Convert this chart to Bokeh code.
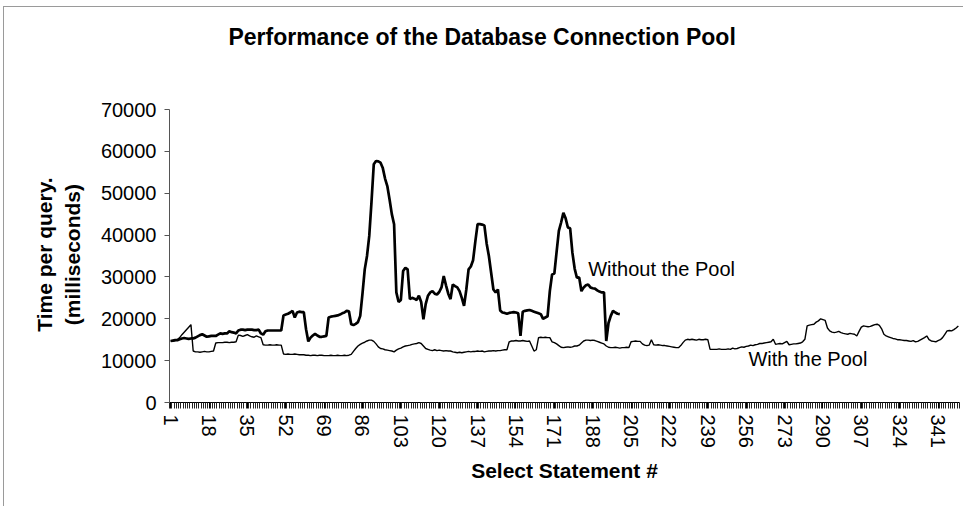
from bokeh.plotting import figure
from bokeh.models import Range1d, FixedTicker, Label
from bokeh.embed import file_html
from bokeh.resources import INLINE

# ---------------- data ----------------
without_pool = [
    14700, 14800, 14900, 14900, 15100, 15300, 15400, 15300, 15200, 15300,
    15300, 15500, 15800, 16100, 16300, 16000, 15700, 15800, 15900, 15900,
    15900, 16200, 16500, 16400, 16500, 16500, 17000, 16800, 16700, 16500,
    17200, 17400, 17400, 17300, 17400, 17400, 17400, 17300, 17300, 17400,
    16500, 16200, 17000, 17200, 17200, 17200, 17200, 17200, 17200, 17200,
    20800, 21000, 21200, 21500, 21900, 20300, 21500, 21700, 21600, 21600,
    17500, 14600, 15500, 16000, 16400, 16000, 15700, 15700, 15800, 15900,
    20300, 20500, 20600, 20700, 20800, 21000, 21300, 21500, 21900, 21800,
    18700, 18500, 18800, 19200, 20700, 26000, 31800, 35000, 39800, 48000,
    56900, 57700, 57600, 57300, 56000, 53500, 51700, 48500, 45000, 42600,
    26300, 24000, 24500, 31400, 32200, 31800, 24700, 25000, 24800, 24500,
    25500, 24000, 19900, 23500, 25500, 26300, 26600, 26000, 25800, 26400,
    27500, 30200, 28000, 26000, 24700, 28200, 27800, 27500, 26600, 25000,
    23100, 27000, 31800, 32500, 34000, 38500, 42600, 42600, 42500, 42300,
    38000, 35000, 31000, 27000, 26300, 27000, 22000, 21500, 21400, 21200,
    21400, 21500, 21600, 21500, 21300, 15900, 21700, 21900, 22000, 22100,
    21900, 21700, 21500, 21300, 21100, 20000, 20300, 20600, 26600, 30600,
    30800, 36000, 41000, 43000, 45300, 44000, 41800, 41600, 35800, 32000,
    29800, 29900, 26600, 27500, 28000, 28200, 27500, 27300, 27200, 26800,
    26500, 26300, 26300, 14700, 19000, 20700, 21900, 21500, 21200, 21100,
]

with_pool = [
    14700, 14700, 14800, 15000, 15500, 16200, 16800, 17400, 18000, 18600,
    12300, 12100, 12100, 12000, 12100, 12200, 12100, 12100, 12200, 12300,
    14200, 14300, 14300, 14300, 14400, 14400, 14300, 14400, 14400, 14500,
    16100, 16000, 15800, 16000, 16200, 15900, 15700, 15600, 15900, 15700,
    15500, 13800, 13700, 13700, 13800, 13700, 13700, 13800, 13700, 13700,
    11600, 11500, 11600, 11500, 11500, 11600, 11500, 11400, 11400, 11400,
    11300, 11300, 11200, 11300, 11300, 11200, 11300, 11300, 11200, 11200,
    11200, 11300, 11200, 11200, 11300, 11200, 11200, 11300, 11200, 11300,
    11500, 12200, 12900, 13500, 13900, 14200, 14400, 14700, 14900, 14900,
    14600, 14000, 13300, 12900, 12800, 12600, 12500, 12400, 12300, 12100,
    12500, 12800, 13000, 13300, 13500, 13600, 13700, 13900, 14000, 14100,
    14300, 14100, 13500, 12900, 12700, 12500, 12400, 12600, 12400, 12500,
    12400, 12300, 12400, 12300, 12300, 12100, 12000, 11900, 12000, 11900,
    12000, 12100, 12200, 12100, 12200, 12200, 12300, 12200, 12300, 12100,
    12200, 12300, 12300, 12400, 12300, 12400, 12400, 12500, 12600, 12600,
    14500, 14700, 14700, 14800, 14700, 14700, 14800, 14700, 14600, 14700,
    13500, 12300, 12600, 15500, 15600, 15500, 15600, 15500, 15500, 14500,
    14300, 14000, 13600, 13200, 13100, 13200, 13300, 13200, 13300, 13500,
    13500, 13700, 14200, 14700, 14900, 14900, 14800, 14900, 14800, 14600,
    14400, 14200, 14000, 13500, 13200, 13100, 13100, 13200, 13100, 13000,
    13100, 13100, 13200, 13100, 14500, 14600, 14700, 14600, 14600, 14000,
    13700, 13600, 13700, 15000, 13800, 13700, 13800, 13700, 13600, 13600,
    13500, 13400, 13300, 13200, 13100, 13100, 13600, 14300, 14900, 15100,
    15000, 15100, 15000, 14900, 15100, 15000, 15000, 15100, 15000, 12700,
    12700, 12700, 12700, 12800, 12700, 12700, 12700, 12800, 12700, 13000,
    12800, 12900, 13100, 13300, 13200, 13400, 13500, 13700, 13600, 13800,
    13900, 14100, 14100, 14200, 14300, 14400, 14500, 15100, 13900, 14000,
    14100, 14000, 14300, 14600, 13800, 13900, 14000, 14000, 14100, 14200,
    14500, 15100, 18300, 18500, 18600, 18700, 19200, 19500, 20000, 19800,
    19600, 17800, 17100, 16800, 16700, 16800, 17000, 16700, 16500, 16400,
    16300, 16500, 16400, 16300, 15900, 17000, 18000, 18300, 18200, 18100,
    18200, 18400, 18600, 18700, 18400, 17600, 16300, 15900, 15700, 15500,
    15300, 15200, 15000, 15000, 14900, 14800, 14800, 14700, 14600, 14800,
    14500, 14600, 14900, 15200, 15500, 15900, 15000, 14700, 14600, 14500,
    14800, 15000, 15500, 16300, 17100, 17200, 17100, 17400, 17800, 18300,
]

x_tick_values = [1, 18, 35, 52, 69, 86, 103, 120, 137, 154, 171, 188, 205,
                 222, 239, 256, 273, 290, 307, 324, 341]
y_tick_values = [0, 10000, 20000, 30000, 40000, 50000, 60000, 70000]
y_axis_max = 70000

title_text = "Performance of the Database Connection Pool"
title_pos = (139, 87440)
x_title = "Select Statement #"
y_title_lines = ["Time per query.", "(milliseconds)"]
label_without = "Without the Pool"
label_with = "With the Pool"
label_without_pos = (186, 31800)
label_with_pos = (257, 10500)

# ---------------- figure ----------------
FONT = "Liberation Sans"
N = len(with_pool)
x_with = list(range(1, N + 1))
x_without = list(range(1, len(without_pool) + 1))

# frame reaches the top of the canvas so the title can live inside it;
# the value axis itself is bounded to 0..70000
H, MB_BOTTOM = 500, 105
frame_h = H - MB_BOTTOM
axis_px = 293  # pixel height of 0..70000 in the reference
y_top = y_axis_max * frame_h / axis_px

p = figure(width=960, height=H, output_backend="svg", toolbar_location=None,
           title=None,
           x_range=Range1d(0.5, N + 0.5), y_range=Range1d(0, y_top),
           min_border_left=165, min_border_right=5,
           min_border_top=0, min_border_bottom=MB_BOTTOM)
p.styles = {"border-left": "1px solid #9a9a9a", "border-top": "1px solid #9a9a9a",
            "margin-left": "3px", "margin-top": "6px"}

p.xgrid.visible = False
p.ygrid.visible = False
p.outline_line_color = None
p.background_fill_color = "white"
p.border_fill_color = "white"

p.line(x_without, without_pool, line_color="black", line_width=2.7)
p.line(x_with, with_pool, line_color="black", line_width=1.4)

# y axis (label centred on the 0..70000 span: pad the top end of the rotated text)
PAD = "\u00a0" * 17
ya = p.yaxis[0]
ya.bounds = (0, y_axis_max)
ya.ticker = FixedTicker(ticks=y_tick_values)
ya.axis_label = "\n".join(line + PAD for line in y_title_lines)
ya.axis_label_text_font = FONT
ya.axis_label_text_font_size = "21px"
ya.axis_label_text_font_style = "bold"
ya.axis_label_text_color = "black"
ya.axis_label_standoff = 14
ya.major_label_text_font = FONT
ya.major_label_text_font_size = "20px"
ya.major_label_text_color = "black"
ya.major_label_standoff = 8
ya.major_tick_out = 5
ya.major_tick_in = 0
ya.minor_tick_out = 0
ya.minor_tick_in = 0
ya.axis_line_color = "#555555"
ya.major_tick_line_color = "#555555"
ya.formatter.use_scientific = False

# x axis
xa = p.xaxis[0]
xa.ticker = FixedTicker(ticks=x_tick_values,
                        minor_ticks=[v + 0.5 for v in range(0, N + 1)])
xa.axis_label = x_title
xa.axis_label_text_font = FONT
xa.axis_label_text_font_size = "21px"
xa.axis_label_text_font_style = "bold"
xa.axis_label_text_color = "black"
xa.axis_label_standoff = 8
xa.major_label_text_font = FONT
xa.major_label_text_font_size = "20px"
xa.major_label_text_color = "black"
xa.major_label_orientation = "vertical"
xa.major_label_standoff = 6
xa.major_tick_out = 6
xa.major_tick_in = 0
xa.minor_tick_out = 6
xa.minor_tick_in = 0
xa.minor_tick_line_color = "#222222"
xa.minor_tick_line_width = 1
xa.major_tick_line_color = "black"
xa.axis_line_color = "black"

p.add_layout(Label(x=title_pos[0], y=title_pos[1], text=title_text, text_font=FONT,
                   text_font_size="23px", text_font_style="bold",
                   text_align="center", text_baseline="middle", text_color="black"))

for txt, (lx, ly) in ((label_without, label_without_pos), (label_with, label_with_pos)):
    p.add_layout(Label(x=lx, y=ly, text=txt, text_font=FONT, text_font_size="20px",
                       text_baseline="middle", text_align="left", text_color="black"))

open("out.html", "w").write(file_html(p, INLINE))
